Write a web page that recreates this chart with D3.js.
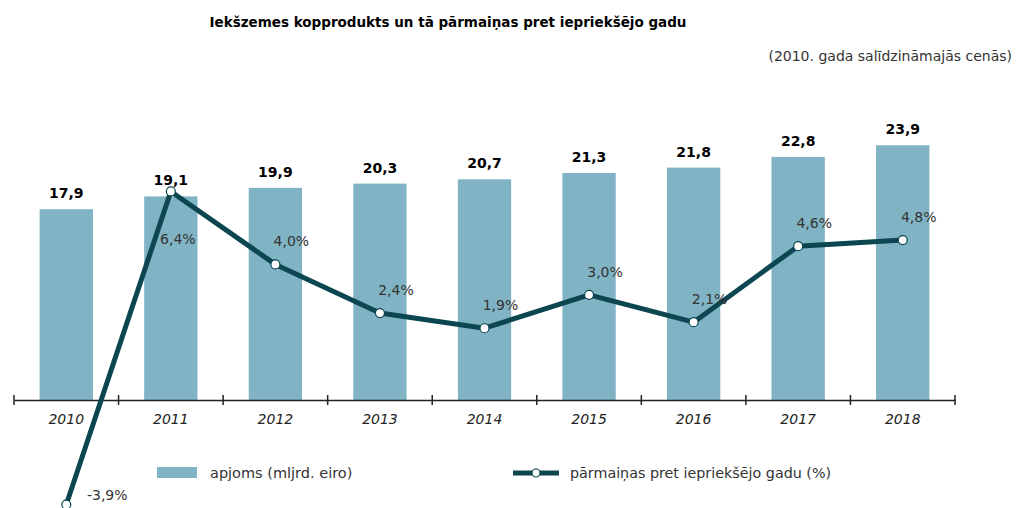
<!DOCTYPE html>
<html>
<head>
<meta charset="utf-8">
<script src="https://cdn.jsdelivr.net/npm/d3@7"></script>
<style>
  body { margin: 0; background: #fff; }
  text { font-family: "DejaVu Sans", Verdana, sans-serif; }
</style>
</head>
<body>
<script>
const years = ["2010", "2011", "2012", "2013", "2014", "2015", "2016", "2017", "2018"];
const volume = [17.9, 19.1, 19.9, 20.3, 20.7, 21.3, 21.8, 22.8, 23.9];
const change = [-3.9, 6.4, 4.0, 2.4, 1.9, 3.0, 2.1, 4.6, 4.8];

const title = "Iekšzemes kopprodukts un tā pārmaiņas pret iepriekšējo gadu";
const subtitle = "(2010. gada salīdzināmajās cenās)";
const legendBars = "apjoms (mljrd. eiro)";
const legendLine = "pārmaiņas pret iepriekšējo gadu (%)";

const w = 1016;
const h = 508;
const barColor = "#80b3c4";
const lineColor = "#0c4650";
const fmt = (v) => String(v.toFixed(1)).replace(".", ",");

const svg = d3
  .select("body")
  .append("svg")
  .attr("width", w)
  .attr("height", h);

// Scales
const xScale = d3
  .scaleBand()
  .domain(years)
  .range([14, 955])
  .paddingInner(0.49)
  .paddingOuter(0.245);

const yBar = d3.scaleLinear().domain([0, 25]).range([400, 133.5]);
const yPct = d3.scaleLinear().domain([-4, 7]).range([507.6, 173.2]);

const cx = (d, i) => xScale(years[i]) + xScale.bandwidth() / 2;

// Title
svg.append("text")
  .attr("x", 448)
  .attr("y", 27)
  .attr("text-anchor", "middle")
  .style("font-size", "13.5px")
  .style("font-weight", "bold")
  .attr("fill", "#000")
  .text(title);

svg.append("text")
  .attr("x", 1012)
  .attr("y", 61)
  .attr("text-anchor", "end")
  .style("font-size", "14px")
  .attr("fill", "#333")
  .text(subtitle);

// Bars
svg.selectAll(".bar")
  .data(volume)
  .enter()
  .append("rect")
  .attr("class", "bar")
  .attr("x", (d, i) => xScale(years[i]))
  .attr("y", (d) => yBar(d))
  .attr("width", xScale.bandwidth())
  .attr("height", (d) => yBar(0) - yBar(d))
  .attr("fill", barColor);

svg.selectAll(".val")
  .data(volume)
  .enter()
  .append("text")
  .attr("class", "val")
  .attr("x", cx)
  .attr("y", (d) => yBar(d) - 11)
  .attr("text-anchor", "middle")
  .style("font-size", "14px")
  .style("font-weight", "bold")
  .attr("fill", "#000")
  .text(fmt);

// X axis
const xAxis = d3.axisBottom(xScale).tickSize(0).tickPadding(14);
const gx = svg.append("g")
  .attr("transform", `translate(0, ${yBar(0)})`)
  .call(xAxis);
gx.select(".domain").attr("stroke", "#222").attr("stroke-width", 1.5);
gx.selectAll("text")
  .style("font-size", "14px")
  .style("font-style", "italic")
  .style("font-family", "DejaVu Sans, sans-serif")
  .attr("fill", "#222");

// tick marks on band edges
const edges = years.map((y) => xScale(y) - xScale.step() * xScale.paddingInner() / 2)
  .concat([xScale(years[years.length - 1]) + xScale.bandwidth() + xScale.step() * xScale.paddingInner() / 2]);
svg.selectAll(".edge")
  .data(edges)
  .enter()
  .append("line")
  .attr("x1", (d) => d)
  .attr("x2", (d) => d)
  .attr("y1", yBar(0) - 5)
  .attr("y2", yBar(0) + 5)
  .attr("stroke", "#222")
  .attr("stroke-width", 1.5);

// Line
const line = d3.line()
  .x((d, i) => cx(d, i))
  .y((d) => yPct(d));

svg.append("path")
  .datum(change)
  .attr("d", line)
  .attr("fill", "none")
  .attr("stroke", lineColor)
  .attr("stroke-width", 5)
  .attr("stroke-linejoin", "round");

svg.selectAll(".dot")
  .data(change)
  .enter()
  .append("circle")
  .attr("cx", cx)
  .attr("cy", (d) => yPct(d))
  .attr("r", 4.5)
  .attr("fill", "#fff")
  .attr("stroke", lineColor)
  .attr("stroke-width", 1.2);

// percentage labels: above-right of point, except the first two
svg.selectAll(".pct")
  .data(change)
  .enter()
  .append("text")
  .attr("class", "pct")
  .attr("x", (d, i) => cx(d, i) + (i === 0 ? 41 : i === 1 ? 7 : 16))
  .attr("y", (d, i) => yPct(d) + (i === 0 ? -5 : i === 1 ? 53 : -18))
  .attr("text-anchor", "middle")
  .style("font-size", "14px")
  .attr("fill", "#333")
  .text((d) => fmt(d) + "%");

// Legend
const lg = svg.append("g");
lg.append("rect")
  .attr("x", 157)
  .attr("y", 467)
  .attr("width", 40)
  .attr("height", 11)
  .attr("fill", barColor);
lg.append("text")
  .attr("x", 210)
  .attr("y", 478)
  .style("font-size", "14.5px")
  .attr("fill", "#333")
  .text(legendBars);

lg.append("line")
  .attr("x1", 513)
  .attr("x2", 559)
  .attr("y1", 473)
  .attr("y2", 473)
  .attr("stroke", lineColor)
  .attr("stroke-width", 5);
lg.append("circle")
  .attr("cx", 536)
  .attr("cy", 473)
  .attr("r", 4)
  .attr("fill", "#fff")
  .attr("stroke", lineColor)
  .attr("stroke-width", 1.2);
lg.append("text")
  .attr("x", 570)
  .attr("y", 478)
  .style("font-size", "14.3px")
  .attr("fill", "#333")
  .text(legendLine);
</script>
</body>
</html>
